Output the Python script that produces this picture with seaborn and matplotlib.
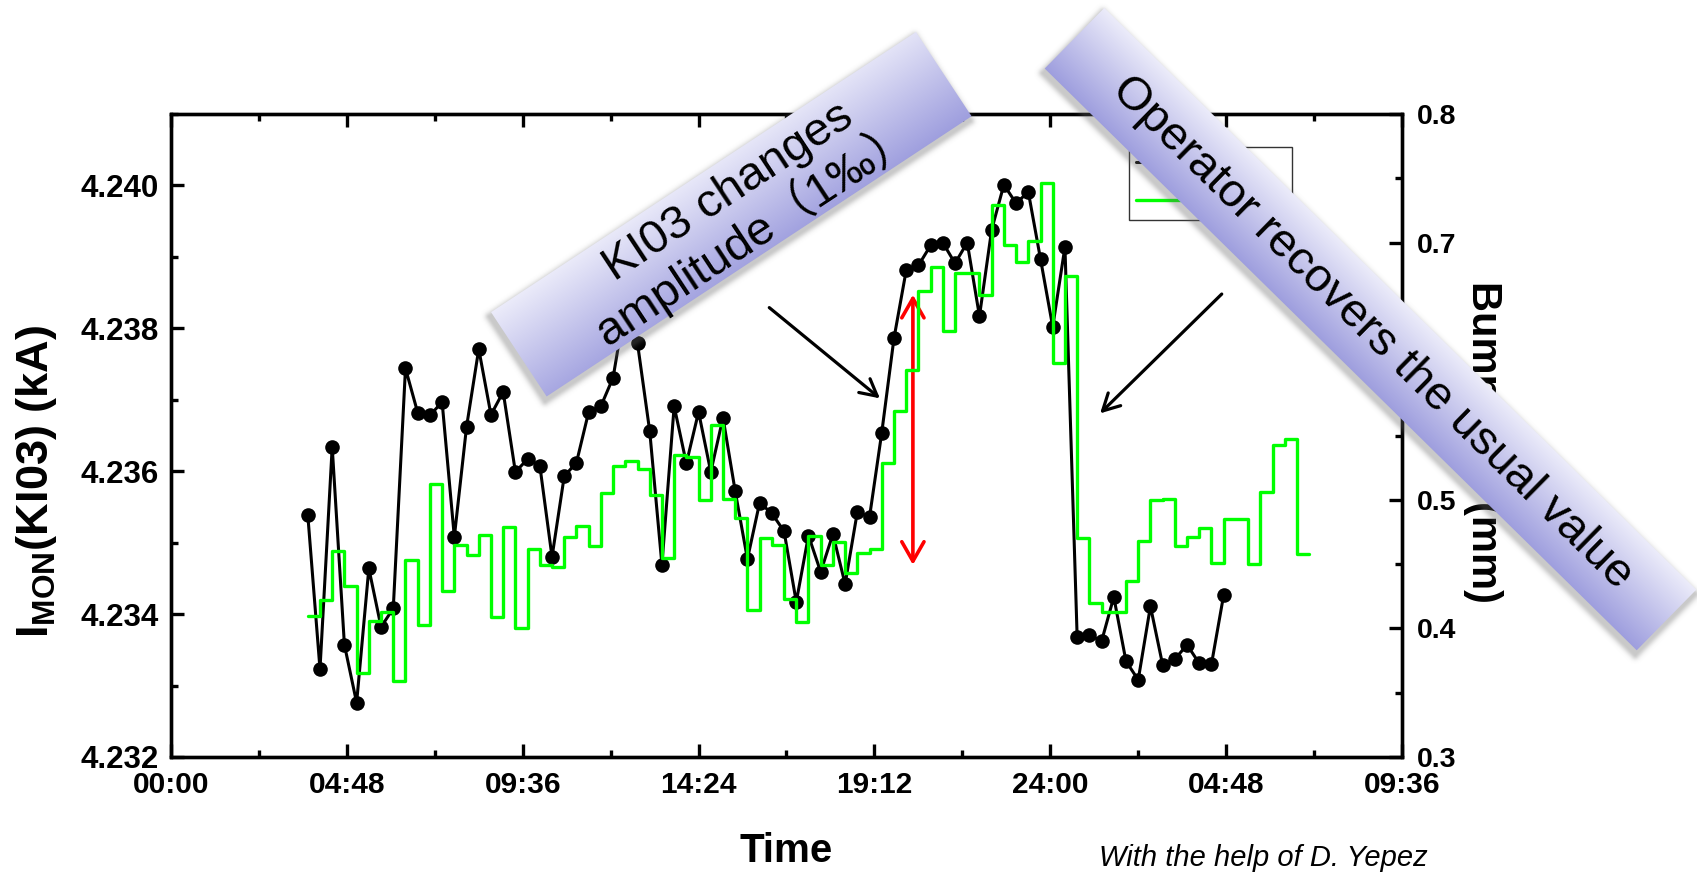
import numpy as np
import pandas as pd
import matplotlib
matplotlib.use("Agg")
import matplotlib.pyplot as plt
import seaborn as sns
from matplotlib.patches import Polygon
from matplotlib.ticker import FixedLocator, MultipleLocator, FormatStrFormatter

# ---------------------------------------------------------------- data
sample_times = [
    "03:44", "04:04", "04:24", "04:44", "05:04", "05:24", "05:44", "06:04", "06:24", "06:44",
    "07:04", "07:24", "07:44", "08:04", "08:24", "08:44", "09:04", "09:24", "09:44", "10:04",
    "10:24", "10:44", "11:04", "11:24", "11:44", "12:04", "12:24", "12:44", "13:04", "13:24",
    "13:44", "14:04", "14:24", "14:44", "15:04", "15:24", "15:44", "16:04", "16:24", "16:44",
    "17:04", "17:24", "17:44", "18:04", "18:24", "18:44", "19:04", "19:24", "19:44", "20:04",
    "20:24", "20:44", "21:04", "21:24", "21:44", "22:04", "22:24", "22:44", "23:04", "23:24",
    "23:44", "24:04", "24:24", "24:44", "25:04", "25:24", "25:44", "26:04", "26:24", "26:44",
    "27:04", "27:24", "27:44", "28:04", "28:24", "28:44", "29:04", "29:24", "29:44", "30:04",
    "30:24", "30:44", "31:04",
]

ki03_current_ka = [
    4.23539, 4.23323, 4.23634, 4.23357, 4.23276, 4.23464, 4.23382, 4.23408, 4.23744, 4.23682,
    4.23678, 4.23697, 4.23508, 4.23662, 4.23771, 4.23679, 4.23711, 4.23599, 4.23617, 4.23608,
    4.23480, 4.23593, 4.23612, 4.23683, 4.23691, 4.23731, 4.23833, 4.23779, 4.23656, 4.23469,
    4.23691, 4.23611, 4.23683, 4.23599, 4.23675, 4.23572, 4.23477, 4.23556, 4.23541, 4.23516,
    4.23417, 4.23510, 4.23459, 4.23512, 4.23442, 4.23543, 4.23536, 4.23654, 4.23786, 4.23881,
    4.23888, 4.23916, 4.23920, 4.23891, 4.23920, 4.23817, 4.23938, 4.24001, 4.23975, 4.23991,
    4.23897, 4.23802, 4.23914, 4.23368, 4.23371, 4.23362, 4.23424, 4.23334, 4.23308, 4.23411,
    4.23329, 4.23337, 4.23357, 4.23331, 4.23330, 4.23427,
]

bump_mm = [
    0.410, 0.422, 0.460, 0.433, 0.365, 0.406, 0.413, 0.359, 0.453, 0.403,
    0.512, 0.429, 0.465, 0.457, 0.473, 0.409, 0.479, 0.400, 0.462, 0.449,
    0.448, 0.471, 0.480, 0.464, 0.505, 0.526, 0.530, 0.524, 0.504, 0.455,
    0.535, 0.533, 0.500, 0.558, 0.501, 0.486, 0.414, 0.470, 0.465, 0.423,
    0.405, 0.472, 0.449, 0.467, 0.443, 0.459, 0.462, 0.529, 0.569, 0.601,
    0.662, 0.681, 0.631, 0.676, 0.676, 0.659, 0.729, 0.698, 0.685, 0.701,
    0.746, 0.606, 0.674, 0.470, 0.420, 0.413, 0.413, 0.437, 0.468, 0.500,
    0.501, 0.464, 0.471, 0.478, 0.451, 0.485, 0.485, 0.450, 0.506, 0.543,
    0.547, 0.458, 0.458,
]

x_tick_hours = [0.0, 4.8, 9.6, 14.4, 19.2, 24.0, 28.8, 33.6]
x_tick_labels = ["00:00", "04:48", "09:36", "14:24", "19:12", "24:00", "04:48", "09:36"]

# amplitude step marked with the red double arrow (time in h, current in kA)
step_time = 20.25
step_low, step_high = 4.23469, 4.23847


def to_hours(hhmm):
    h, m = hhmm.split(":")
    return int(h) + int(m) / 60.0


t_hours = [to_hours(s) for s in sample_times]
df_ki = pd.DataFrame({"time": t_hours[:len(ki03_current_ka)], "current": ki03_current_ka})
df_bump = pd.DataFrame({"time": t_hours[:len(bump_mm)], "bump": bump_mm})

# ---------------------------------------------------------------- style
sns.set_style("white")
plt.rcParams["font.family"] = ["Liberation Sans", "DejaVu Sans"]
plt.rcParams["mathtext.fontset"] = "custom"
plt.rcParams["mathtext.bf"] = "Liberation Sans:bold"
plt.rcParams["mathtext.rm"] = "Liberation Sans"
for key in ("text.color", "axes.labelcolor", "xtick.color", "ytick.color", "axes.edgecolor"):
    plt.rcParams[key] = "black"

W, H = 1697, 873
fig = plt.figure(figsize=(W / 100, H / 100), dpi=100)
fig.patch.set_facecolor("white")

x0, x1, y_top, y_bot = 171, 1402, 114, 757
ax = fig.add_axes([x0 / W, 1 - y_bot / H, (x1 - x0) / W, (y_bot - y_top) / H])
ax2 = ax.twinx()

sns.lineplot(data=df_ki, x="time", y="current", ax=ax, color="black", lw=2.2,
             marker="o", markersize=10.5, markeredgewidth=0, sort=False,
             label="KI03", legend=False)
sns.lineplot(data=df_bump, x="time", y="bump", ax=ax2, color="#00ff00", lw=2.4,
             drawstyle="steps-post", sort=False, label="Bump (mm)", legend=False)

# axes ranges and ticks
ax.set_xlim(0, 33.6)
ax.set_ylim(4.232, 4.241)
ax2.set_ylim(0.3, 0.8)
ax.xaxis.set_major_locator(FixedLocator(x_tick_hours))
ax.set_xticklabels(x_tick_labels)
ax.xaxis.set_minor_locator(MultipleLocator(2.4))
ax.yaxis.set_major_locator(FixedLocator([4.232, 4.234, 4.236, 4.238, 4.240]))
ax.yaxis.set_minor_locator(MultipleLocator(0.001))
ax.yaxis.set_major_formatter(FormatStrFormatter("%.3f"))
ax2.yaxis.set_major_locator(MultipleLocator(0.1))
ax2.yaxis.set_minor_locator(MultipleLocator(0.05))
ax2.yaxis.set_major_formatter(FormatStrFormatter("%.1f"))

for a in (ax, ax2):
    for sp in a.spines.values():
        sp.set_linewidth(2.4)
        sp.set_color("black")
ax.tick_params(axis="both", which="both", direction="in", width=2.4, color="black")
ax.tick_params(axis="both", which="major", length=9.5)
ax.tick_params(axis="both", which="minor", length=5)
ax.tick_params(axis="x", which="both", top=True, bottom=True)
ax.tick_params(axis="y", which="both", left=True, right=False)
ax.tick_params(axis="y", which="major", labelsize=22.5, pad=9)
ax.tick_params(axis="x", which="major", labelsize=21.5, pad=10)
ax2.tick_params(axis="y", which="both", direction="in", width=2.4, color="black")
ax2.tick_params(axis="y", which="major", length=9.5, labelsize=20.5, pad=11)
ax2.tick_params(axis="y", which="minor", length=5)
for lab in ax.get_xticklabels() + ax.get_yticklabels() + ax2.get_yticklabels():
    lab.set_fontweight("bold")
    lab.set_color("black")

ax.set_xlabel("Time", fontsize=29, fontweight="bold", va="top")
ax.xaxis.set_label_coords(0.5, -0.117)
ax.set_ylabel(r"I$_{\mathbf{MON}}$(KI03) (kA)", fontsize=32.5, fontweight="bold")
ax.yaxis.set_label_coords(-0.091, 0.428)
ax2.set_ylabel("Bump size (mm)", fontsize=30, fontweight="bold", rotation=-90,
               va="center", ha="center")
ax2.yaxis.set_label_coords((1483 - x0) / (x1 - x0), 0.49)

# legend
handles = [ax.get_lines()[0], ax2.get_lines()[0]]
leg = ax2.legend(handles, [h.get_label() for h in handles], loc="upper left",
                 bbox_to_anchor=(1129 / W, 1 - 147 / H), bbox_transform=fig.transFigure,
                 borderaxespad=0, fontsize=12, frameon=True, fancybox=False,
                 framealpha=1, edgecolor="#333333", borderpad=0.42,
                 labelspacing=0.98, handlelength=3.0, handleheight=1.6,
                 handletextpad=0.7)
leg.get_frame().set_linewidth(1.0)

# arrows
ax.annotate("", xy=(step_time, step_high), xytext=(step_time, step_low),
            arrowprops=dict(arrowstyle="<->,head_length=0.7,head_width=0.4",
                            color="red", lw=2.6, mutation_scale=20,
                            shrinkA=0, shrinkB=0), zorder=5)
ax.annotate("", xy=(19.35, 4.23702), xytext=(16.33, 4.23829),
            arrowprops=dict(arrowstyle="->,head_length=0.6,head_width=0.32",
                            color="black", lw=2.3, mutation_scale=20,
                            shrinkA=0, shrinkB=0))
ax.annotate("", xy=(25.36, 4.23681), xytext=(28.68, 4.23848),
            arrowprops=dict(arrowstyle="->,head_length=0.6,head_width=0.32",
                            color="black", lw=2.3, mutation_scale=20,
                            shrinkA=0, shrinkB=0))

fig.text(1099 / W, 1 - 858 / H, "With the help of D. Yepez", fontsize=21,
         style="italic", fontweight="normal", ha="left", va="center", color="black")

# ---------------------------------------------------------------- banners
ov = fig.add_axes([0, 0, 1, 1], zorder=10)
ov.set_xlim(0, W)
ov.set_ylim(H, 0)
ov.axis("off")
ov.patch.set_alpha(0)

LIGHT = np.array([236, 236, 250]) / 255.0
DARK = np.array([158, 158, 222]) / 255.0


def draw_banner(center, length, width, angle, along_weight=0.0, along_sign=1.0):
    a = np.deg2rad(angle)
    d = np.array([np.cos(a), -np.sin(a)])
    n = np.array([-np.sin(a), -np.cos(a)])
    c = np.array(center, dtype=float)
    corners = [c + sl * length / 2 * d + sw * width / 2 * n
               for sl, sw in ((-1, 1), (1, 1), (1, -1), (-1, -1))]
    corners = np.array(corners)
    pad = 20
    bx0, by0 = np.floor(corners.min(axis=0)) - pad
    bx1, by1 = np.ceil(corners.max(axis=0)) + pad
    xs = np.arange(bx0, bx1) + 0.5
    ys = np.arange(by0, by1) + 0.5
    X, Y = np.meshgrid(xs, ys)

    # soft drop shadow
    sx, sy = -1.5, 4.5
    u = (X - c[0] - sx) * d[0] + (Y - c[1] - sy) * d[1]
    v = (X - c[0] - sx) * n[0] + (Y - c[1] - sy) * n[1]
    du = np.maximum(np.abs(u) - length / 2, 0)
    dv = np.maximum(np.abs(v) - width / 2, 0)
    dist = np.hypot(du, dv)
    shadow = np.zeros(X.shape + (4,))
    shadow[..., :3] = 0.4
    shadow[..., 3] = 0.35 * np.exp(-(dist / 4.5) ** 2)
    ov.imshow(shadow, extent=(bx0, bx1, by1, by0), origin="upper",
              interpolation="bilinear", zorder=1)

    # lavender gradient body, light along the upper long edge
    u = (X - c[0]) * d[0] + (Y - c[1]) * d[1]
    v = (X - c[0]) * n[0] + (Y - c[1]) * n[1]
    across = np.clip(0.5 * (1 - v / (width / 2)), 0, 1)
    along = np.clip(u / length + 0.5, 0, 1)
    if along_sign < 0:
        along = 1 - along
    t = np.clip((1 - along_weight) * across + along_weight * along, 0, 1)
    rgb = LIGHT + (DARK - LIGHT) * t[..., None]
    poly = Polygon(corners, closed=True, fc="none", ec="none", transform=ov.transData)
    ov.add_patch(poly)
    im = ov.imshow(rgb, extent=(bx0, bx1, by1, by0), origin="upper",
                   interpolation="bilinear", zorder=2)
    im.set_clip_path(poly)


draw_banner((731.3, 214.2), 509, 101, 33.4, along_weight=0.12, along_sign=1.0)
ov.text(742, 213, "KI03 changes\namplitude\uff081\u2030\uff09", rotation=33.4,
        rotation_mode="anchor", ha="center", va="center", fontsize=34,
        fontweight="normal", linespacing=1.0, color="black", zorder=3,
        family=["Liberation Sans", "Noto Sans CJK SC"])

draw_banner((1370.5, 329.1), 830, 85, -44.5)
ov.text(1372, 333, "Operator recovers the usual value", rotation=-44.5,
        rotation_mode="anchor", ha="center", va="center", fontsize=34,
        fontweight="normal", color="black", zorder=3)

ov.set_xlim(0, W)
ov.set_ylim(H, 0)

fig.savefig("out.png", dpi=100, facecolor="white")
